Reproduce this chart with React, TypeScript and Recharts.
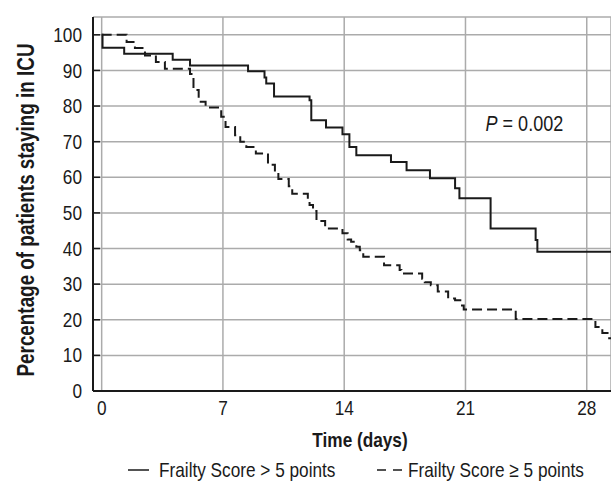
import { LineChart, Line, XAxis, YAxis, CartesianGrid, Legend, ReferenceDot } from 'recharts'

// Arial metrics squeezed horizontally to stand in for the condensed face of the original
const FONT = '"Liberation Sans", Arial, sans-serif'
const SQUEEZE = 0.82
const INK = '#1a1a1a'
const GRID = '#ababab'

// Frailty Score > 5 points (solid)
const solidDays = [0, 0.05, 1.3, 4.1, 5.1, 8.45, 9.4, 9.5, 9.95, 12.0, 12.1, 12.95, 13.9, 14.3, 14.7, 16.7, 17.6, 18.95, 20.4, 20.65, 22.45, 25.05, 25.15, 29.4]
const solidValues = [100, 96.4, 94.7, 93.0, 91.4, 89.8, 88.0, 86.3, 82.7, 81.6, 76.0, 74.0, 72.1, 68.5, 66.2, 64.3, 62.0, 59.7, 56.9, 54.1, 45.6, 42.4, 39.1, 39.1]

// Frailty Score ≥ 5 points (dashed)
const dashedDays = [0, 1.44, 1.92, 2.5, 3.13, 3.65, 5.1, 5.3, 5.6, 6.0, 6.9, 7.15, 7.7, 8.0, 8.35, 8.9, 9.6, 10.0, 10.2, 10.8, 11.0, 11.9, 12.0, 12.2, 12.4, 12.9, 13.9, 14.2, 14.4, 14.7, 14.9, 15.1, 16.3, 17.2, 17.3, 18.5, 18.65, 19.0, 19.4, 20.0, 20.4, 20.8, 20.9, 23.9, 28.5, 28.9, 29.2, 29.4]
const dashedValues = [100, 98.0, 96.3, 94.2, 92.4, 90.5, 89.0, 84.5, 81.2, 79.6, 77.0, 74.1, 71.8, 70.0, 68.5, 66.7, 63.5, 61.5, 59.5, 57.5, 55.4, 54.0, 52.2, 50.5, 47.7, 45.6, 44.3, 42.5, 41.9, 40.5, 39.5, 37.7, 35.3, 34.0, 33.0, 31.5, 30.5, 29.7, 27.9, 26.0, 25.5, 24.0, 22.9, 20.2, 18.0, 16.3, 14.8, 14.8]

const xTicks = [0, 7, 14, 21, 28]
const topTicks = [0.36, 4.1, 7.8, 11.5, 15.25, 18.9, 22.6, 26.3]
const yTicks = [0, 10, 20, 30, 40, 50, 60, 70, 80, 90, 100]
const xDomain = [-0.5, 29.4]
const yDomain = [0, 105]

const solidData = solidDays.map((d, i) => ({ day: d, pct: solidValues[i] }))
const dashedData = dashedDays.map((d, i) => ({ day: d, pct: dashedValues[i] }))

const NarrowText = ({ x, y, anchor = 'start', size = 21, bold = false, rotate = 0, baseline, children }: any) => (
    <text
        transform={`translate(${x},${y}) rotate(${rotate}) scale(${SQUEEZE},1)`}
        textAnchor={anchor}
        dominantBaseline={baseline}
        fontSize={size}
        fontWeight={bold ? 'bold' : 'normal'}
        fill={INK}
        fontFamily={FONT}
    >
        {children}
    </text>
)

const YTick = (props: any) => {
    const { x, y, payload } = props
    return (
        <g>
            <NarrowText x={x} y={y} anchor="end" baseline="central">{payload.value}</NarrowText>
            <line x1={x + 11} x2={x + 18} y1={y} y2={y} stroke={INK} strokeWidth={1.5} />
        </g>
    )
}

const XTick = (props: any) => {
    const { x, y, payload } = props
    return <NarrowText x={x} y={y + 15} anchor="middle">{payload.value}</NarrowText>
}

const YLabel = (props: any) => {
    const { viewBox } = props
    const cy = viewBox.y + viewBox.height / 2 + 6
    return (
        <NarrowText x={26} y={cy} anchor="middle" baseline="central" size={23} bold rotate={-90}>
            Percentage of patients staying in ICU
        </NarrowText>
    )
}

const XLabel = (props: any) => {
    const { viewBox } = props
    return (
        <NarrowText x={viewBox.x + viewBox.width / 2 + 8} y={viewBox.y + 49} anchor="middle" baseline="central" bold>
            Time (days)
        </NarrowText>
    )
}

const PLabel = (props: any) => {
    const { x, y } = props.viewBox
    return (
        <NarrowText x={x} y={y} anchor="middle" baseline="central" size={22}>
            <tspan fontStyle="italic">P</tspan>
            <tspan> = 0.002</tspan>
        </NarrowText>
    )
}

const LegendContent = () => (
    <svg width={611} height={34} style={{ display: 'block' }}>
        <line x1={128} x2={149} y1={19} y2={19} stroke={INK} strokeWidth={1.5} />
        <NarrowText x={159} y={19} baseline="central">Frailty Score &gt; 5 points</NarrowText>
        <line x1={377} x2={402} y1={19} y2={19} stroke={INK} strokeWidth={1.5} strokeDasharray="9 7" />
        <NarrowText x={408} y={19} baseline="central">Frailty Score ≥ 5 points</NarrowText>
    </svg>
)

export default function App() {
    return (
        <div style={{ position: 'absolute', left: 0, top: 0, width: 611, height: 485, background: '#fff' }}>
            <LineChart width={611} height={485} margin={{ top: 17, right: 0, left: 0, bottom: 0 }}>
                <CartesianGrid stroke={GRID} strokeWidth={1.5} />
                <XAxis
                    xAxisId="top"
                    orientation="top"
                    type="number"
                    domain={xDomain}
                    ticks={topTicks}
                    height={0}
                    mirror
                    tick={false}
                    tickSize={5}
                    axisLine={{ stroke: INK, strokeWidth: 1.5 }}
                    tickLine={{ stroke: INK, strokeWidth: 1.5 }}
                    allowDataOverflow
                />
                <XAxis
                    dataKey="day"
                    type="number"
                    domain={xDomain}
                    ticks={xTicks}
                    allowDataOverflow
                    height={60}
                    tickLine={false}
                    tickSize={0}
                    tickMargin={9}
                    axisLine={{ stroke: INK, strokeWidth: 2 }}
                    tick={<XTick />}
                    label={{ content: XLabel }}
                />
                <YAxis
                    type="number"
                    domain={yDomain}
                    ticks={yTicks}
                    width={93}
                    tickLine={false}
                    tickSize={0}
                    tickMargin={11}
                    axisLine={{ stroke: INK, strokeWidth: 2 }}
                    tick={<YTick />}
                    label={{ content: YLabel }}
                />
                <Legend verticalAlign="bottom" content={<LegendContent />} />
                <Line
                    data={solidData}
                    dataKey="pct"
                    type="stepAfter"
                    stroke={INK}
                    strokeWidth={2}
                    dot={false}
                    name="Frailty Score > 5 points"
                    isAnimationActive={false}
                />
                <Line
                    data={dashedData}
                    dataKey="pct"
                    type="stepAfter"
                    stroke={INK}
                    strokeWidth={2}
                    strokeDasharray="10 5"
                    dot={false}
                    name="Frailty Score ≥ 5 points"
                    isAnimationActive={false}
                />
                <ReferenceDot x={24.4} y={75.2} r={0} fill="none" stroke="none" label={PLabel} />
            </LineChart>
        </div>
    )
}
